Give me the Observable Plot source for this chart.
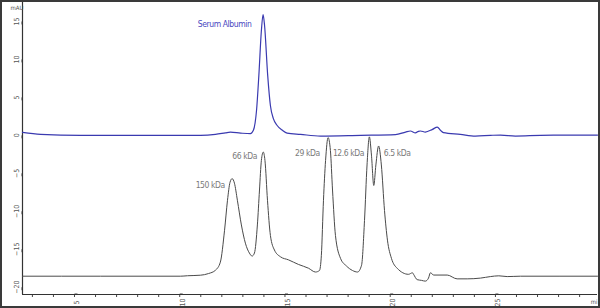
<!DOCTYPE html>
<html><head><meta charset="utf-8">
<script src="https://cdn.jsdelivr.net/npm/d3@7"></script>
<script src="https://cdn.jsdelivr.net/npm/@observablehq/plot@0.6"></script>
<style>
html,body{margin:0;padding:0;background:#fff;}
#chart svg{display:block;outline:2px solid #3a3a3a;outline-offset:-2px;}
.narrow text{letter-spacing:-0.4px;}
</style></head><body><div id="chart"></div>
<script>
// Serum Albumin trace (blue)
const blueTime = [2.53,3.39,5.29,7.19,9.09,10.99,11.70,12.17,12.41,12.89,13.36,13.50,13.65,13.76,13.88,13.96,14.03,14.18,14.31,14.45,14.63,14.88,15.10,15.74,16.69,18.59,20.25,20.73,20.96,21.20,21.34,21.44,21.67,22.01,22.24,22.39,22.53,23.33,24.05,24.76,25.24,25.95,27.14,28.56,29.85];
const blueSignal = [0.39,0.13,0,0,0,0,0.13,0.33,0.43,0.30,0.22,0.66,3.3,7.9,13.8,15.9,14.5,7.9,3.9,2.2,1.3,0.66,0.3,0.13,-0.09,0,0.09,0.43,0.57,0.33,0.53,0.57,0.43,0.79,1.09,0.66,0.36,0.13,-0.09,0,0.04,-0.09,0,0.03,0.04];
// Standards trace (black)
const blackTime = [2.53,6.23,10.03,10.37,10.98,11.37,11.70,11.93,12.13,12.27,12.39,12.49,12.60,12.74,12.93,13.12,13.31,13.44,13.55,13.69,13.79,13.88,13.97,14.05,14.17,14.31,14.50,14.79,15.17,15.64,16.12,16.45,16.64,16.73,16.83,16.93,17.05,17.16,17.26,17.40,17.64,17.92,18.21,18.45,18.64,18.78,18.90,19.01,19.11,19.22,19.32,19.45,19.58,19.73,19.87,20.06,20.33,20.87,21.06,21.11,21.28,21.49,21.67,21.82,21.91,22.07,22.71,23.18,23.66,24.29,24.76,25.16,25.56,26.19,29.85];
const blackSignal = [-18.55,-18.55,-18.55,-18.49,-18.42,-18.2,-17.76,-16.7,-12.5,-8.55,-6.18,-5.7,-6.3,-8.55,-11.8,-14.2,-15.5,-15.9,-15.5,-11.8,-7.2,-3.3,-2.2,-3.3,-8.55,-13.2,-15.1,-16.0,-16.4,-17.0,-17.5,-18.0,-17.8,-15.8,-8.55,-3.3,-0.3,-2.0,-7.2,-13.2,-16.2,-17.2,-17.8,-18.0,-17.1,-11.2,-3.9,-0.2,-2.6,-6.6,-3.9,-1.4,-3.9,-9.9,-13.8,-16.2,-17.5,-18.3,-18.1,-18.3,-19.0,-19.1,-19.2,-18.8,-18.1,-18.4,-18.4,-18.9,-18.9,-18.8,-18.6,-18.5,-18.6,-18.55,-18.55];
// Annotations
const peakLabels = ["150 kDa","66 kDa","29 kDa","12.6 kDa","6.5 kDa"];
const peakLabelTime = [11.45,13.08,16.07,18.02,20.33];
const peakLabelSignal = [-6.6,-2.76,-2.3,-2.3,-2.3];
const seriesLabels = ["Serum Albumin"];
const seriesLabelTime = [12.13];
const seriesLabelSignal = [14.6];
// Axes
const xTicks = [5,10,15,20,25];
const xMinorTicks = [3,4,5,6,7,8,9,10,11,12,13,14,15,16,17,18,19,20,21,22,23,24,25,26,27,28,29];
const yTicks = [15,10,5,0,-5,-10,-15,-20];
const xDomain = [2.53,29.85];
const yDomain = [-20.96,17.76];
const yUnit = "mAU";
const xUnit = "mi";

const blue = blueTime.map((t,i)=>({t, v: blueSignal[i]}));
const black = blackTime.map((t,i)=>({t, v: blackSignal[i]}));
const peaks = peakLabels.map((s,i)=>({s, t: peakLabelTime[i], v: peakLabelSignal[i]}));
const series = seriesLabels.map((s,i)=>({s, t: seriesLabelTime[i], v: seriesLabelSignal[i]}));

const font = "'DejaVu Sans Condensed','Liberation Sans Narrow','Liberation Sans',sans-serif";

const chart = Plot.plot({
  width: 600, height: 308,
  marginLeft: 22, marginRight: 3, marginTop: 0, marginBottom: 14,
  style: {fontFamily: font, background: "#fff", overflow: "visible"},
  x: {domain: xDomain, label: null},
  y: {domain: yDomain, label: null},
  marks: [
    Plot.axisX({ticks: xMinorTicks, tickSize: 3, text: null, stroke: "#444", label: null}),
    Plot.axisX({ticks: xTicks, tickSize: 3, rotate: -90, textAnchor: "middle", fontSize: 7, fill: "#555", stroke: "#444", tickPadding: 5, label: null}),
    Plot.axisY({ticks: yTicks, tickSize: 3, rotate: -90, textAnchor: "middle", fontSize: 7, fill: "#555", stroke: "#444", tickPadding: 3, label: null}),
    Plot.ruleX([xDomain[0]], {stroke: "#333", strokeWidth: 1.2}),
    Plot.ruleY([yDomain[0]], {stroke: "#333", strokeWidth: 1.2}),
    Plot.line(black, {x: "t", y: "v", stroke: "#4a4a4a", strokeWidth: 1, curve: "monotone-x"}),
    Plot.line(blue, {x: "t", y: "v", stroke: "#3a3ab0", strokeWidth: 1.2, curve: "monotone-x"}),
    Plot.text(peaks, {x: "t", y: "v", text: "s", fill: "#7a7a7a", fontSize: 8.5, className: "narrow"}),
    Plot.text(series, {x: "t", y: "v", text: "s", fill: "#4848c0", fontSize: 8.5, className: "narrow"}),
    Plot.text([yUnit], {frameAnchor: "top-left", dx: -12, dy: 5, text: d=>d, fontSize: 6, fill: "#555"}),
    Plot.text([xUnit], {frameAnchor: "bottom-right", dx: 0, dy: 9, text: d=>d, fontSize: 6, fill: "#555", textAnchor: "end"})
  ]
});
document.getElementById("chart").appendChild(chart);
</script></body></html>
